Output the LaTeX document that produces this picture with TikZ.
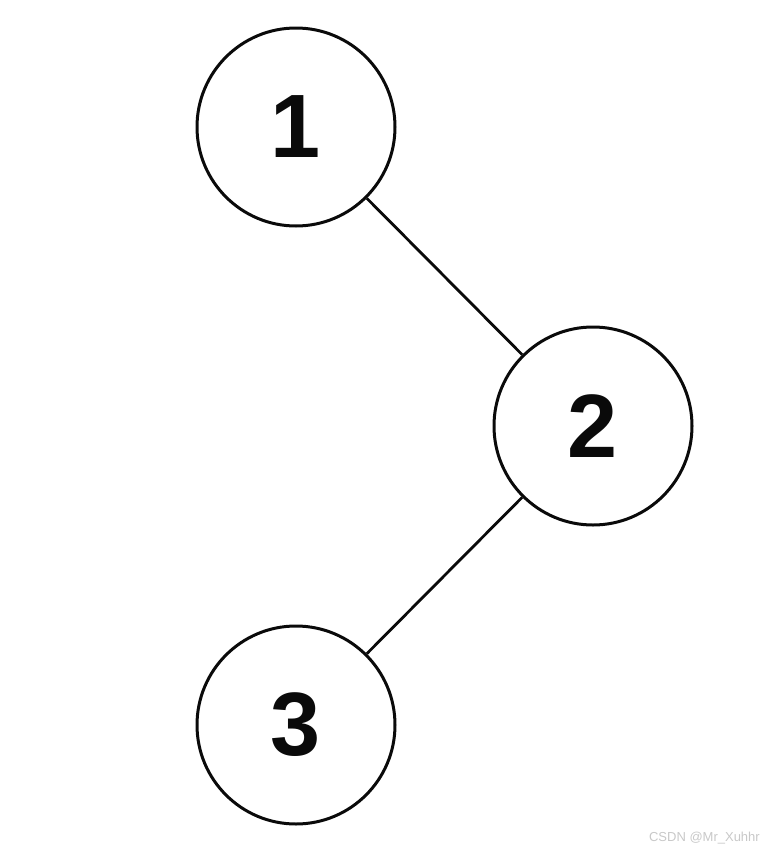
\documentclass[tikz,border=0pt]{standalone}
\usepackage{fontspec}
\setmainfont{Liberation Sans}
\usetikzlibrary{positioning}
\definecolor{inkBlack}{RGB}{10,10,10}
\definecolor{markGray}{RGB}{200,200,200}
\tikzset{
  tree node/.style={circle,draw=inkBlack,line width=3pt,minimum size=198pt,inner sep=0pt,font=\fontsize{90}{90}\selectfont\bfseries,text=inkBlack},
  tree edge/.style={line width=2.8pt,draw=inkBlack},
  watermark/.style={font=\fontsize{13}{13}\selectfont,text=markGray,inner sep=0pt}
}
\begin{document}
\begin{tikzpicture}[x=1pt,y=1pt,node distance=299pt and 297pt,on grid]
  \useasboundingbox (0,0) rectangle (765,-852);
  \node[tree node] (one) at (296,-127) {1};
  \node[tree node,below right=of one] (two) {2};
  \node[tree node,below left=of two] (three) {3};
  \draw[tree edge] (one) -- (two);
  \draw[tree edge] (two) -- (three);
  \node[watermark,anchor=east] (mark) at (760,-838) {CSDN @Mr\_Xuhhr};
\end{tikzpicture}
\end{document}
